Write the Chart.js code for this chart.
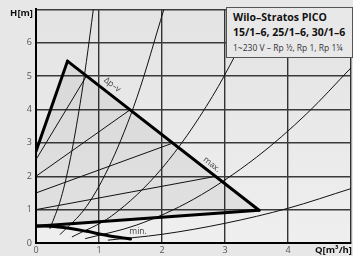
<!DOCTYPE html>
<html>
<head>
<meta charset="utf-8">
<script src="https://cdn.jsdelivr.net/npm/chart.js@4/dist/chart.umd.min.js"></script>
<style>
  html, body { margin: 0; padding: 0; background: #e7e7e7; }
  #wrap { position: relative; width: 353px; height: 256px; overflow: hidden; }
  #info {
    position: absolute; left: 226px; top: 7px; width: 125px; height: 49px;
    background: #e8e8e8; border: 1px solid #555; box-sizing: content-box;
    font-family: "Open Sans", sans-serif; color: #111;
  }
  #info div { position: absolute; left: 6px; white-space: nowrap; }
  #info .l1 { top: 2px; font-size: 10.5px; font-weight: bold; }
  #info .l2 { top: 17px; font-size: 10.5px; font-weight: bold; }
  #info .l3 { top: 34px; font-size: 8.5px; color: #333; }
</style>
</head>
<body>
<div id="wrap">
  <canvas id="chart" width="353" height="256"></canvas>
  <div id="info">
    <div class="l1">Wilo–Stratos PICO</div>
    <div class="l2">15/1–6, 25/1–6, 30/1–6</div>
    <div class="l3">1~230 V – Rp ½, Rp 1, Rp 1¼</div>
  </div>
</div>
<script>
// tick labels
const xTicks = ['0', '1', '2', '3', '4', ''];
const yTicks = ['0', '1', '2', '3', '4', '5', '6', ''];

// thick outline of the Δp-v operating range
const dpvTop = [{x: 0, y: 2.75}, {x: 0.5, y: 5.45}];
const maxCurve = [{x: 0.5, y: 5.45}, {x: 3.54, y: 0.98}];
const dpvBottom = [{x: 3.54, y: 0.98}, {x: 0, y: 0.5}];
const minCurve = [{x: 0, y: 0.52}, {x: 0.4, y: 0.47}, {x: 0.8, y: 0.35}, {x: 1.15, y: 0.22}, {x: 1.5, y: 0.12}];

// thin Δp-v setpoint lines
const dpv5 = [{x: 0, y: 2.5}, {x: 0.8, y: 5.0}];
const dpv4 = [{x: 0, y: 2.0}, {x: 1.5, y: 4.0}];
const dpv3 = [{x: 0, y: 1.5}, {x: 2.18, y: 3.0}];
const dpv2 = [{x: 0, y: 1.0}, {x: 2.86, y: 2.0}];

// thin system curves
const sys1 = [{x: 0.22, y: 0.42}, {x: 0.4, y: 1.36}, {x: 0.55, y: 2.57}, {x: 0.7, y: 4.17}, {x: 0.8, y: 5.44}, {x: 0.91, y: 7.0}];
const sys2 = [{x: 0.38, y: 0.25}, {x: 0.8, y: 1.09}, {x: 1.2, y: 2.45}, {x: 1.6, y: 4.35}, {x: 2.03, y: 7.0}];
const sys3 = [{x: 0.57, y: 0.18}, {x: 1.2, y: 0.81}, {x: 2.0, y: 2.24}, {x: 2.8, y: 4.39}, {x: 3.54, y: 7.0}];
const sys4 = [{x: 0.78, y: 0.13}, {x: 1.6, y: 0.54}, {x: 2.5, y: 1.31}, {x: 3.5, y: 2.57}, {x: 4.3, y: 3.88}, {x: 5.0, y: 5.25}];
const sys5 = [{x: 1.14, y: 0.085}, {x: 2, y: 0.26}, {x: 3, y: 0.59}, {x: 4, y: 1.04}, {x: 5, y: 1.63}];

const FONT = '"Open Sans", sans-serif';

function thin(data) {
    return { data, showLine: true, borderColor: '#111', borderWidth: 1, pointRadius: 0, tension: 0.4, cubicInterpolationMode: 'monotone', fill: false };
}
function thick(data) {
    return { data, showLine: true, borderColor: '#000', borderWidth: 3, pointRadius: 0, tension: 0.4, cubicInterpolationMode: 'monotone', fill: false, borderCapStyle: 'round', borderJoinStyle: 'round' };
}

const areaShape = dpvTop.concat(maxCurve.slice(1), dpvBottom.slice(1), [dpvTop[0]]);

const plotBg = {
    id: 'plotBg',
    beforeDraw(chart) {
        const { ctx, chartArea: a } = chart;
        const g = ctx.createLinearGradient(0, a.top, 0, a.bottom);
        g.addColorStop(0, '#e3e3e3');
        g.addColorStop(1, '#efefef');
        ctx.save();
        ctx.fillStyle = g;
        ctx.fillRect(a.left, a.top, a.right - a.left, a.bottom - a.top);
        ctx.restore();
    }
};

const labels = {
    id: 'labels',
    afterDraw(chart) {
        const { ctx } = chart;
        const sx = chart.scales.x, sy = chart.scales.y;
        const ang = Math.atan2(sy.getPixelForValue(maxCurve[1].y) - sy.getPixelForValue(maxCurve[0].y),
                               sx.getPixelForValue(maxCurve[1].x) - sx.getPixelForValue(maxCurve[0].x));
        ctx.save();
        ctx.fillStyle = '#444';
        ctx.font = '8.5px ' + FONT;
        ctx.textAlign = 'center';
        ctx.textBaseline = 'middle';
        [['Δp–v', 1.21, 4.74], ['max.', 2.79, 2.35]].forEach(([t, x, y]) => {
            ctx.save();
            ctx.translate(sx.getPixelForValue(x), sy.getPixelForValue(y));
            ctx.rotate(ang);
            ctx.fillText(t, 0, 0);
            ctx.restore();
        });
        ctx.fillText('min.', sx.getPixelForValue(1.62), sy.getPixelForValue(0.33));

        // axis titles
        ctx.fillStyle = '#111';
        ctx.font = 'bold 9.5px ' + FONT;
        ctx.textAlign = 'right';
        ctx.fillText('H[m]', 33, 13);
        ctx.fillText('Q[m³/h]', 352, 250);
        ctx.restore();
    }
};

new Chart(document.getElementById('chart'), {
    type: 'scatter',
    data: {
        datasets: [
            thick(dpvTop), thick(maxCurve), thick(dpvBottom), thick(minCurve),
            thin(dpv5), thin(dpv4), thin(dpv3), thin(dpv2),
            thin(sys1), thin(sys2), thin(sys3), thin(sys4), thin(sys5),
            { data: areaShape, showLine: true, pointRadius: 0, borderWidth: 0, tension: 0,
              fill: 'shape', backgroundColor: 'rgba(0,0,0,0.055)', order: 10 }
        ]
    },
    options: {
        responsive: false,
        animation: false,
        layout: { padding: { top: 7, right: 1, left: 0, bottom: 0 } },
        plugins: { legend: { display: false }, tooltip: { enabled: false } },
        scales: {
            x: {
                type: 'linear', min: 0, max: 5,
                afterFit(s) { s.height = 13; },
                grid: { color: '#333', lineWidth: 1.4, drawTicks: false },
                border: { display: true, color: '#000', width: 2 },
                ticks: { stepSize: 1, padding: 2, color: '#555', font: { family: FONT, size: 9 },
                         callback: (v) => xTicks[v] },
            },
            y: {
                type: 'linear', min: 0, max: 7,
                afterFit(s) { s.width = 36; },
                grid: { color: '#3a3a3a', lineWidth: 1.5, drawTicks: false },
                border: { display: true, color: '#000', width: 2 },
                ticks: { stepSize: 1, padding: 4, color: '#555', font: { family: FONT, size: 9 },
                         callback: (v) => yTicks[v] },
            }
        }
    },
    plugins: [plotBg, labels]
});
</script>
</body>
</html>
